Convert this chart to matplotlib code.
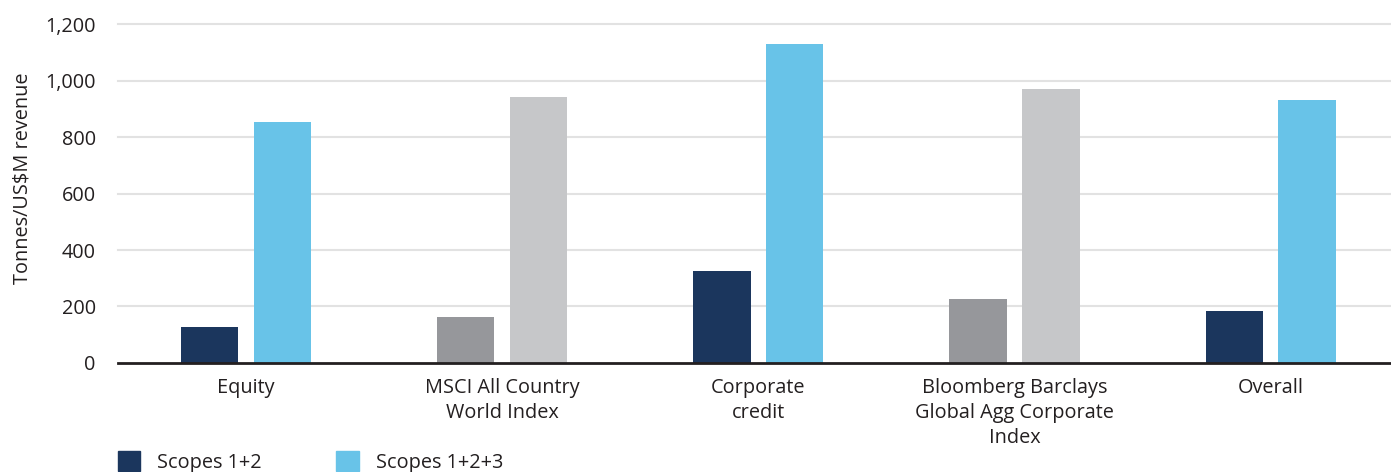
import numpy as np
import matplotlib.pyplot as plt
from matplotlib.patches import Patch

# Emissions intensity by asset class, tonnes CO2e per US$M revenue
categories = ["Equity", "MSCI All Country\nWorld Index", "Corporate\ncredit",
              "Bloomberg Barclays\nGlobal Agg Corporate\nIndex", "Overall"]
scopes_12 = [127, 163, 326, 227, 184]
scopes_123 = [853, 942, 1129, 970, 931]
is_benchmark = [False, True, False, True, False]
yticks = [0, 200, 400, 600, 800, 1000, 1200]

NAVY = "#1b365d"
SKY = "#68c3e8"
GREY = "#96979b"
LIGHT_GREY = "#c6c7c9"
INK = "#231f20"
FS = 14.3

plt.rcParams['font.family'] = ['Open Sans', 'DejaVu Sans']

fig = plt.figure(figsize=(13.91, 4.72), dpi=100)
ax = fig.add_axes([0.0848, 0.231, 0.9152, 0.718])

x = np.arange(len(categories))
offset = 0.142
width = 0.224
c12 = [GREY if b else NAVY for b in is_benchmark]
c123 = [LIGHT_GREY if b else SKY for b in is_benchmark]
ax.bar(x - offset, scopes_12, width, color=c12, zorder=3)
ax.bar(x + offset, scopes_123, width, color=c123, zorder=3)

ax.set_xlim(-0.5, 4.47)
ax.set_ylim(0, 1200)
ax.set_yticks(yticks)
ax.set_yticklabels([f"{v:,}" for v in yticks])
ax.set_xticks(x)
ax.set_xticklabels(categories, linespacing=1.33)
ax.tick_params(axis='both', length=0, labelsize=FS, colors=INK)
ax.tick_params(axis='x', pad=11)
ax.tick_params(axis='y', pad=16)

# horizontal gridlines, heavy baseline
for v in yticks[1:]:
    ax.axhline(v, color="#e2e2e2", lw=1.5, zorder=1, clip_on=False)
for s in ['top', 'right', 'left']:
    ax.spines[s].set_visible(False)
ax.spines['bottom'].set_color(INK)
ax.spines['bottom'].set_linewidth(2)
ax.spines['bottom'].set_zorder(4)

ax.set_ylabel("Tonnes/US\\$M revenue", fontsize=FS, color=INK)
ax.yaxis.set_label_coords(-0.067, 0.546)

handles = [Patch(color=NAVY, label="Scopes 1+2"), Patch(color=SKY, label="Scopes 1+2+3")]
fig.legend(handles=handles, loc='upper left', bbox_to_anchor=(118 / 1391, 1 - 451 / 472),
           ncol=2, frameon=False, fontsize=FS, borderpad=0, borderaxespad=0,
           handlelength=1.12, handleheight=1.2, handletextpad=0.86,
           columnspacing=3.75, labelcolor=INK)

fig.savefig("out.png", dpi=100)
